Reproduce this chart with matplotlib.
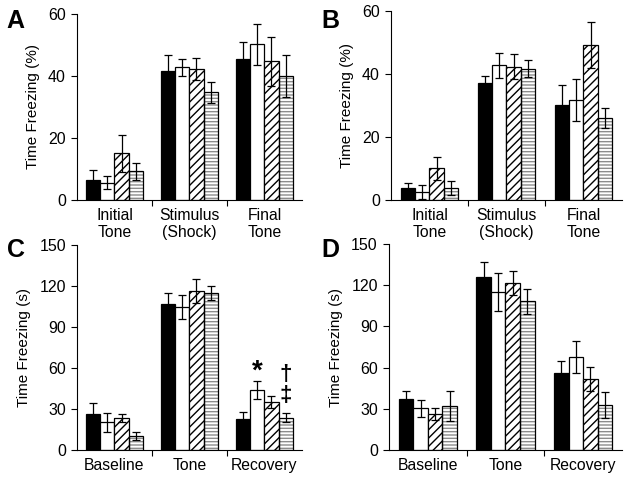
import numpy as np
import matplotlib
matplotlib.use('Agg')
from matplotlib import pyplot as plt

plt.rcParams['font.family'] = ['Liberation Sans', 'DejaVu Sans']

# Panel data: rows = groups (black, white, diagonal, horizontal), cols = categories
catsTop = ['Initial\nTone', 'Stimulus\n(Shock)', 'Final\nTone']
catsBottom = ['Baseline', 'Tone', 'Recovery']

meanA = [[6.6, 41.5, 45.6], [5.6, 42.8, 50.2], [15.0, 42.3, 44.7], [9.3, 34.7, 40.1]]
errA = [[3.1, 5.4, 5.5], [2.2, 2.8, 6.6], [6.1, 3.6, 7.8], [2.7, 3.4, 6.8]]

meanB = [[3.8, 37.1, 30.1], [2.6, 42.7, 31.7], [10.0, 42.3, 49.1], [3.8, 41.7, 26.0]]
errB = [[1.5, 2.4, 6.5], [2.2, 4.1, 6.7], [3.7, 4.0, 7.3], [2.3, 2.7, 3.2]]

meanC = [[26.6, 106.8, 22.9], [20.2, 104.6, 43.7], [23.7, 116.1, 35.4], [10.0, 114.9, 23.7]]
errC = [[7.5, 8.1, 4.9], [7.1, 8.6, 6.5], [2.9, 8.8, 4.4], [2.9, 5.3, 3.1]]

meanD = [[37.1, 125.7, 55.8], [30.3, 115.3, 67.5], [26.2, 121.8, 51.7], [32.3, 108.3, 32.8]]
errD = [[5.6, 11.0, 9.0], [6.1, 13.8, 11.6], [4.1, 8.8, 9.0], [10.9, 9.2, 9.2]]

barStyles = [
    dict(color='black', hatch=None, hatchColor=None),
    dict(color='white', hatch=None, hatchColor=None),
    dict(color='white', hatch='////', hatchColor='black'),
    dict(color='white', hatch='-----', hatchColor='#8c8c8c'),
]


def drawPanel(ax, means, errs, cats, ymax, yticks, ylabel):
    width = 0.187
    x = np.arange(len(cats))
    for i, (m, e, st) in enumerate(zip(means, errs, barStyles)):
        pos = x + (i - 1.5) * width
        if st['hatch'] is not None:
            ax.bar(pos, m, width, color=st['color'], edgecolor=st['hatchColor'],
                   hatch=st['hatch'], linewidth=0, zorder=2)
            ax.bar(pos, m, width, fill=False, edgecolor='black',
                   linewidth=0.9, zorder=3)
        else:
            ax.bar(pos, m, width, color=st['color'], edgecolor='black',
                   linewidth=0.9, zorder=2)
        ax.errorbar(pos, m, yerr=e, fmt='none', ecolor='black',
                    elinewidth=0.9, capsize=3.2, capthick=0.9, zorder=4)
    ax.set_xlim(-0.5, len(cats) - 0.5)
    ax.set_ylim(0, ymax)
    ax.set_yticks(yticks)
    ax.set_xticks(x)
    ax.set_xticklabels(cats, fontsize=11.3, linespacing=1.1)
    ax.set_xticks(np.arange(0.5, len(cats) - 0.5, 1.0), minor=True)
    ax.tick_params(axis='x', which='major', length=0, pad=6)
    ax.tick_params(axis='x', which='minor', length=4, width=0.8, direction='out')
    ax.tick_params(axis='y', length=4, width=0.8, labelsize=11.5, pad=4)
    for s in ['top', 'right']:
        ax.spines[s].set_visible(False)
    for s in ['left', 'bottom']:
        ax.spines[s].set_linewidth(0.8)
    ax.set_ylabel(ylabel, fontsize=11, labelpad=6)


W, H = 629, 479
fig = plt.figure(figsize=(W / 100, H / 100), dpi=100)
axA = fig.add_axes([0.1224, 0.5825, 0.3577, 0.3883])
axB = fig.add_axes([0.6216, 0.5825, 0.3672, 0.3946])
axC = fig.add_axes([0.1224, 0.0605, 0.3577, 0.4280])
axD = fig.add_axes([0.6184, 0.0605, 0.3704, 0.4300])

drawPanel(axA, meanA, errA, catsTop, 60, [0, 20, 40, 60], 'Time Freezing (%)')
drawPanel(axB, meanB, errB, catsTop, 60, [0, 20, 40, 60], 'Time Freezing (%)')
drawPanel(axC, meanC, errC, catsBottom, 150, [0, 30, 60, 90, 120, 150], 'Time Freezing (s)')
drawPanel(axD, meanD, errD, catsBottom, 150, [0, 30, 60, 90, 120, 150], 'Time Freezing (s)')

# Panel letters
for letter, px, py in [('A', 6, 21), ('B', 321, 21), ('C', 7, 250), ('D', 321, 250)]:
    fig.text(px / W, 1 - py / H, letter, fontsize=18, fontweight='bold',
             ha='left', va='center')

# Significance markers on panel C (Recovery)
w = 0.187
axC.text(2 - 0.5 * w, 57.5, '*', fontsize=20, fontweight='bold', ha='center', va='center')
axC.text(2 + 1.5 * w, 55, '\u2020', fontsize=16, fontweight='bold', ha='center', va='center')
axC.text(2 + 1.5 * w, 40, '\u2021', fontsize=16, fontweight='bold', ha='center', va='center')

fig.savefig('out.png', dpi=100)
